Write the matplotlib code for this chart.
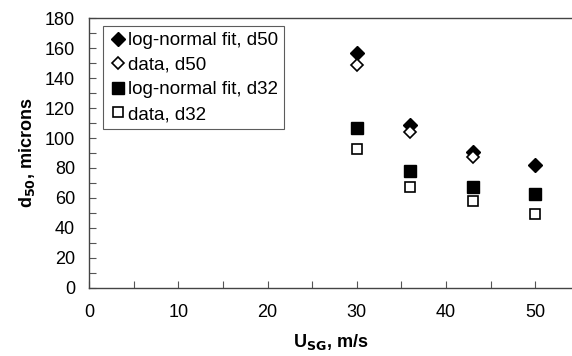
import numpy as np
import matplotlib
matplotlib.use("Agg")
import matplotlib.pyplot as plt
from matplotlib.ticker import MultipleLocator

plt.rcParams["font.family"] = ["Liberation Sans", "DejaVu Sans"]

# gas velocity, m/s
usg = [30, 36, 43, 50]
usg_data50 = [30, 36, 43]
fit_d50 = [156.5, 108.5, 91, 82]
data_d50 = [148.5, 104, 87]
fit_d32 = [107, 78, 67, 62.5]
data_d32 = [93, 67, 58, 49]

fig = plt.figure(figsize=(5.72, 3.56), dpi=100)
ax = fig.add_axes([0.1556, 0.1918, 0.8444, 0.7568])

ax.plot(usg, fit_d50, linestyle="none", marker="D", markersize=7,
        color="black", label="log-normal fit, d50")
ax.plot(usg_data50, data_d50, linestyle="none", marker="D", markersize=6,
        markerfacecolor="white", markeredgecolor="black", markeredgewidth=1.2,
        label="data, d50")
ax.plot(usg, fit_d32, linestyle="none", marker="s", markersize=8,
        color="black", label="log-normal fit, d32")
ax.plot(usg, data_d32, linestyle="none", marker="s", markersize=7.5,
        markerfacecolor="white", markeredgecolor="black", markeredgewidth=1.2,
        label="data, d32")

ax.set_xlim(0, 54.1)
ax.set_ylim(0, 180)
ax.xaxis.set_major_locator(MultipleLocator(10))
ax.xaxis.set_minor_locator(MultipleLocator(5))
ax.yaxis.set_major_locator(MultipleLocator(20))
ax.yaxis.set_minor_locator(MultipleLocator(10))
ax.tick_params(which="both", direction="in", length=5, width=0.8, color="#555555")
ax.tick_params(axis="x", which="major", labelsize=13, pad=12)
ax.tick_params(axis="y", which="major", labelsize=13, pad=10)

for side in ["top", "left", "bottom"]:
    ax.spines[side].set_color("#444444")
    ax.spines[side].set_linewidth(1.0)
ax.spines["right"].set_visible(False)

ax.set_xlabel("U$_{\\mathbf{SG}}$, m/s", fontsize=13, fontweight="bold", labelpad=8)
ax.set_ylabel("d$_{\\mathbf{50}}$, microns", fontsize=13, fontweight="bold", labelpad=6)

leg = ax.legend(loc="upper left", bbox_to_anchor=(0.029, 0.97), fontsize=13.5,
                frameon=True, fancybox=False, edgecolor="#333333",
                handletextpad=0.05, handlelength=1.0, labelspacing=0.4,
                borderpad=0.3, borderaxespad=0)
leg.get_frame().set_linewidth(0.8)

plt.savefig("out.png", dpi=100)
